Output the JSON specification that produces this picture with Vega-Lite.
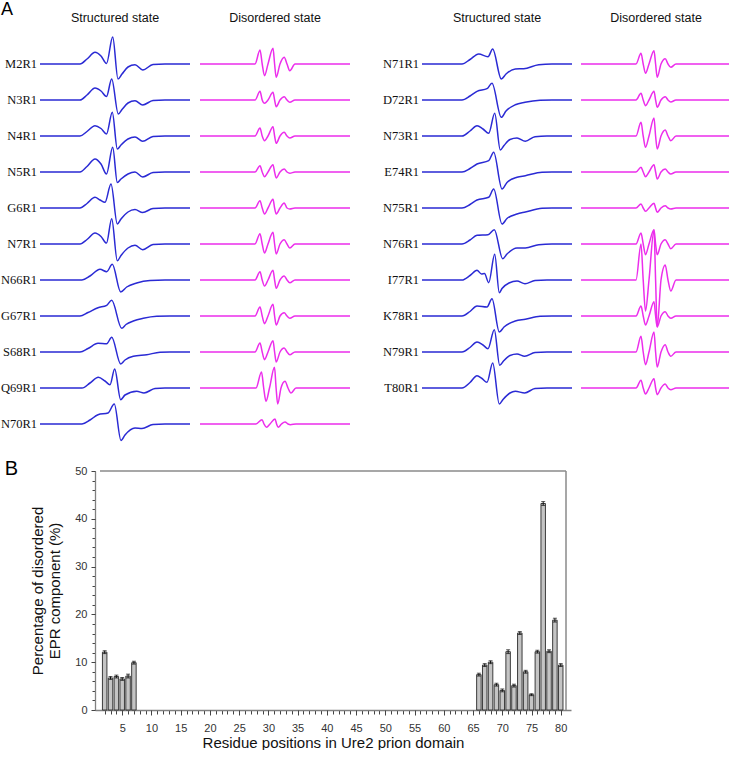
{
"$schema": "https://vega.github.io/schema/vega-lite/v6.json",
"padding": {"left": 0, "top": 0, "right": 0, "bottom": 0},
"background": "white",
"config": {"view": {"stroke": null}, "font": "Liberation Sans"},
"spacing": 15,
"datasets": {
"left": [
{"r":"M2R1","s":"S","x":0,"y":0},{"r":"M2R1","s":"S","x":40,"y":0},{"r":"M2R1","s":"S","x":47,"y":5},{"r":"M2R1","s":"S","x":55,"y":11.7},{"r":"M2R1","s":"S","x":61,"y":8},{"r":"M2R1","s":"S","x":66.5,"y":0.5},{"r":"M2R1","s":"S","x":72.7,"y":27},{"r":"M2R1","s":"S","x":78,"y":-15},{"r":"M2R1","s":"S","x":82,"y":-10},{"r":"M2R1","s":"S","x":88,"y":-3},{"r":"M2R1","s":"S","x":95,"y":-0.7},{"r":"M2R1","s":"S","x":102.7,"y":-6},{"r":"M2R1","s":"S","x":113,"y":-0.5},{"r":"M2R1","s":"S","x":125,"y":0},{"r":"M2R1","s":"S","x":150,"y":0},
{"r":"M2R1","s":"D","x":0,"y":0},{"r":"M2R1","s":"D","x":55,"y":0},{"r":"M2R1","s":"D","x":60,"y":14},{"r":"M2R1","s":"D","x":62.2,"y":0},{"r":"M2R1","s":"D","x":64.5,"y":-11.7},{"r":"M2R1","s":"D","x":68,"y":0},{"r":"M2R1","s":"D","x":73,"y":15.7},{"r":"M2R1","s":"D","x":74.6,"y":0},{"r":"M2R1","s":"D","x":76.2,"y":-13.3},{"r":"M2R1","s":"D","x":80,"y":0},{"r":"M2R1","s":"D","x":84.2,"y":6.7},{"r":"M2R1","s":"D","x":87,"y":0},{"r":"M2R1","s":"D","x":89.8,"y":-6.7},{"r":"M2R1","s":"D","x":95,"y":0},{"r":"M2R1","s":"D","x":150,"y":0},
{"r":"N3R1","s":"S","x":0,"y":0},{"r":"N3R1","s":"S","x":40,"y":0},{"r":"N3R1","s":"S","x":47,"y":5},{"r":"N3R1","s":"S","x":55,"y":12},{"r":"N3R1","s":"S","x":61,"y":9},{"r":"N3R1","s":"S","x":66.5,"y":3.5},{"r":"N3R1","s":"S","x":71.7,"y":21},{"r":"N3R1","s":"S","x":78.3,"y":-14},{"r":"N3R1","s":"S","x":82,"y":-9.5},{"r":"N3R1","s":"S","x":88,"y":-3},{"r":"N3R1","s":"S","x":95,"y":-0.7},{"r":"N3R1","s":"S","x":102.7,"y":-5},{"r":"N3R1","s":"S","x":113,"y":-0.5},{"r":"N3R1","s":"S","x":125,"y":0},{"r":"N3R1","s":"S","x":150,"y":0},
{"r":"N3R1","s":"D","x":0,"y":0},{"r":"N3R1","s":"D","x":55,"y":0},{"r":"N3R1","s":"D","x":60,"y":8.7},{"r":"N3R1","s":"D","x":62.2,"y":0},{"r":"N3R1","s":"D","x":64.5,"y":-3.3},{"r":"N3R1","s":"D","x":68,"y":0},{"r":"N3R1","s":"D","x":73,"y":7.7},{"r":"N3R1","s":"D","x":74.6,"y":0},{"r":"N3R1","s":"D","x":76.2,"y":-6.7},{"r":"N3R1","s":"D","x":80,"y":0},{"r":"N3R1","s":"D","x":84.2,"y":3.3},{"r":"N3R1","s":"D","x":87,"y":0},{"r":"N3R1","s":"D","x":89.8,"y":-2.3},{"r":"N3R1","s":"D","x":95,"y":0},{"r":"N3R1","s":"D","x":150,"y":0},
{"r":"N4R1","s":"S","x":0,"y":0},{"r":"N4R1","s":"S","x":40,"y":0},{"r":"N4R1","s":"S","x":47,"y":4.5},{"r":"N4R1","s":"S","x":55,"y":10.3},{"r":"N4R1","s":"S","x":61,"y":7.5},{"r":"N4R1","s":"S","x":66.5,"y":2},{"r":"N4R1","s":"S","x":72.3,"y":23.7},{"r":"N4R1","s":"S","x":77.3,"y":-13},{"r":"N4R1","s":"S","x":81,"y":-9},{"r":"N4R1","s":"S","x":88,"y":-3},{"r":"N4R1","s":"S","x":95,"y":-1},{"r":"N4R1","s":"S","x":102.7,"y":-5.3},{"r":"N4R1","s":"S","x":113,"y":-0.5},{"r":"N4R1","s":"S","x":125,"y":0},{"r":"N4R1","s":"S","x":150,"y":0},
{"r":"N4R1","s":"D","x":0,"y":0},{"r":"N4R1","s":"D","x":55,"y":0},{"r":"N4R1","s":"D","x":60,"y":8},{"r":"N4R1","s":"D","x":62.2,"y":0},{"r":"N4R1","s":"D","x":64.5,"y":-4.7},{"r":"N4R1","s":"D","x":68,"y":0},{"r":"N4R1","s":"D","x":73,"y":9.3},{"r":"N4R1","s":"D","x":74.6,"y":0},{"r":"N4R1","s":"D","x":76.2,"y":-7.3},{"r":"N4R1","s":"D","x":80,"y":0},{"r":"N4R1","s":"D","x":84.2,"y":3.7},{"r":"N4R1","s":"D","x":87,"y":0},{"r":"N4R1","s":"D","x":89.8,"y":-2},{"r":"N4R1","s":"D","x":95,"y":0},{"r":"N4R1","s":"D","x":150,"y":0},
{"r":"N5R1","s":"S","x":0,"y":0},{"r":"N5R1","s":"S","x":40,"y":0},{"r":"N5R1","s":"S","x":47,"y":5.5},{"r":"N5R1","s":"S","x":55,"y":13},{"r":"N5R1","s":"S","x":61,"y":8},{"r":"N5R1","s":"S","x":66.5,"y":-2},{"r":"N5R1","s":"S","x":72.7,"y":24.7},{"r":"N5R1","s":"S","x":77.3,"y":-10.5},{"r":"N5R1","s":"S","x":81,"y":-7},{"r":"N5R1","s":"S","x":88,"y":-2},{"r":"N5R1","s":"S","x":95,"y":0},{"r":"N5R1","s":"S","x":102.7,"y":-5},{"r":"N5R1","s":"S","x":113,"y":-0.5},{"r":"N5R1","s":"S","x":125,"y":0},{"r":"N5R1","s":"S","x":150,"y":0},
{"r":"N5R1","s":"D","x":0,"y":0},{"r":"N5R1","s":"D","x":55,"y":0},{"r":"N5R1","s":"D","x":60,"y":6.3},{"r":"N5R1","s":"D","x":62.2,"y":0},{"r":"N5R1","s":"D","x":64.5,"y":-4.7},{"r":"N5R1","s":"D","x":68,"y":0},{"r":"N5R1","s":"D","x":73,"y":7.3},{"r":"N5R1","s":"D","x":74.6,"y":0},{"r":"N5R1","s":"D","x":76.2,"y":-6},{"r":"N5R1","s":"D","x":80,"y":0},{"r":"N5R1","s":"D","x":84.2,"y":3},{"r":"N5R1","s":"D","x":87,"y":0},{"r":"N5R1","s":"D","x":89.8,"y":-1.3},{"r":"N5R1","s":"D","x":95,"y":0},{"r":"N5R1","s":"D","x":150,"y":0},
{"r":"G6R1","s":"S","x":0,"y":0},{"r":"G6R1","s":"S","x":40,"y":0},{"r":"G6R1","s":"S","x":47,"y":4.5},{"r":"G6R1","s":"S","x":55,"y":10.7},{"r":"G6R1","s":"S","x":60,"y":8},{"r":"G6R1","s":"S","x":65,"y":5.7},{"r":"G6R1","s":"S","x":71,"y":24},{"r":"G6R1","s":"S","x":77.3,"y":-16},{"r":"G6R1","s":"S","x":81,"y":-11},{"r":"G6R1","s":"S","x":88,"y":-4},{"r":"G6R1","s":"S","x":95,"y":-1.6},{"r":"G6R1","s":"S","x":102.7,"y":-4.5},{"r":"G6R1","s":"S","x":113,"y":-0.5},{"r":"G6R1","s":"S","x":125,"y":0},{"r":"G6R1","s":"S","x":150,"y":0},
{"r":"G6R1","s":"D","x":0,"y":0},{"r":"G6R1","s":"D","x":55,"y":0},{"r":"G6R1","s":"D","x":60,"y":7.3},{"r":"G6R1","s":"D","x":62.2,"y":0},{"r":"G6R1","s":"D","x":64.5,"y":-6},{"r":"G6R1","s":"D","x":68,"y":0},{"r":"G6R1","s":"D","x":73,"y":8.7},{"r":"G6R1","s":"D","x":74.6,"y":0},{"r":"G6R1","s":"D","x":76.2,"y":-6},{"r":"G6R1","s":"D","x":80,"y":0},{"r":"G6R1","s":"D","x":84.2,"y":5},{"r":"G6R1","s":"D","x":87,"y":0},{"r":"G6R1","s":"D","x":89.8,"y":-1},{"r":"G6R1","s":"D","x":95,"y":0},{"r":"G6R1","s":"D","x":150,"y":0},
{"r":"N7R1","s":"S","x":0,"y":0},{"r":"N7R1","s":"S","x":40,"y":0},{"r":"N7R1","s":"S","x":47,"y":4.5},{"r":"N7R1","s":"S","x":55,"y":11},{"r":"N7R1","s":"S","x":61,"y":7.5},{"r":"N7R1","s":"S","x":66.5,"y":1},{"r":"N7R1","s":"S","x":71.7,"y":25.3},{"r":"N7R1","s":"S","x":77.3,"y":-16.7},{"r":"N7R1","s":"S","x":81,"y":-11.5},{"r":"N7R1","s":"S","x":88,"y":-4},{"r":"N7R1","s":"S","x":95,"y":-1.3},{"r":"N7R1","s":"S","x":102.7,"y":-5.7},{"r":"N7R1","s":"S","x":113,"y":-0.5},{"r":"N7R1","s":"S","x":125,"y":0},{"r":"N7R1","s":"S","x":150,"y":0},
{"r":"N7R1","s":"D","x":0,"y":0},{"r":"N7R1","s":"D","x":55,"y":0},{"r":"N7R1","s":"D","x":60,"y":10.3},{"r":"N7R1","s":"D","x":62.2,"y":0},{"r":"N7R1","s":"D","x":64.5,"y":-9},{"r":"N7R1","s":"D","x":68,"y":0},{"r":"N7R1","s":"D","x":73,"y":11.7},{"r":"N7R1","s":"D","x":74.6,"y":0},{"r":"N7R1","s":"D","x":76.2,"y":-10},{"r":"N7R1","s":"D","x":80,"y":0},{"r":"N7R1","s":"D","x":84.2,"y":4.3},{"r":"N7R1","s":"D","x":87,"y":0},{"r":"N7R1","s":"D","x":89.8,"y":-4},{"r":"N7R1","s":"D","x":95,"y":0},{"r":"N7R1","s":"D","x":150,"y":0},
{"r":"N66R1","s":"S","x":0,"y":0},{"r":"N66R1","s":"S","x":42,"y":0},{"r":"N66R1","s":"S","x":50,"y":4},{"r":"N66R1","s":"S","x":60,"y":10.7},{"r":"N66R1","s":"S","x":66.7,"y":8.3},{"r":"N66R1","s":"S","x":72.3,"y":15.7},{"r":"N66R1","s":"S","x":80.7,"y":-12},{"r":"N66R1","s":"S","x":86.7,"y":-7},{"r":"N66R1","s":"S","x":96.7,"y":-3},{"r":"N66R1","s":"S","x":110,"y":-0.5},{"r":"N66R1","s":"S","x":125,"y":0},{"r":"N66R1","s":"S","x":150,"y":0},
{"r":"N66R1","s":"D","x":0,"y":0},{"r":"N66R1","s":"D","x":55,"y":0},{"r":"N66R1","s":"D","x":60,"y":8.3},{"r":"N66R1","s":"D","x":62.2,"y":0},{"r":"N66R1","s":"D","x":64.5,"y":-6},{"r":"N66R1","s":"D","x":68,"y":0},{"r":"N66R1","s":"D","x":73,"y":9.7},{"r":"N66R1","s":"D","x":74.6,"y":0},{"r":"N66R1","s":"D","x":76.2,"y":-8.3},{"r":"N66R1","s":"D","x":80,"y":0},{"r":"N66R1","s":"D","x":84.2,"y":4},{"r":"N66R1","s":"D","x":87,"y":0},{"r":"N66R1","s":"D","x":89.8,"y":-2.7},{"r":"N66R1","s":"D","x":95,"y":0},{"r":"N66R1","s":"D","x":150,"y":0},
{"r":"G67R1","s":"S","x":0,"y":0},{"r":"G67R1","s":"S","x":40,"y":0},{"r":"G67R1","s":"S","x":48,"y":3.5},{"r":"G67R1","s":"S","x":58,"y":8.3},{"r":"G67R1","s":"S","x":66.7,"y":10.7},{"r":"G67R1","s":"S","x":71.7,"y":15.7},{"r":"G67R1","s":"S","x":81.7,"y":-12.3},{"r":"G67R1","s":"S","x":86,"y":-8.5},{"r":"G67R1","s":"S","x":93.3,"y":-5},{"r":"G67R1","s":"S","x":103.3,"y":-2.3},{"r":"G67R1","s":"S","x":116.7,"y":-0.3},{"r":"G67R1","s":"S","x":130,"y":0},{"r":"G67R1","s":"S","x":150,"y":0},
{"r":"G67R1","s":"D","x":0,"y":0},{"r":"G67R1","s":"D","x":55,"y":0},{"r":"G67R1","s":"D","x":60,"y":9},{"r":"G67R1","s":"D","x":62.2,"y":0},{"r":"G67R1","s":"D","x":64.5,"y":-7.7},{"r":"G67R1","s":"D","x":68,"y":0},{"r":"G67R1","s":"D","x":73,"y":11.7},{"r":"G67R1","s":"D","x":74.6,"y":0},{"r":"G67R1","s":"D","x":76.2,"y":-9},{"r":"G67R1","s":"D","x":80,"y":0},{"r":"G67R1","s":"D","x":84.2,"y":3.3},{"r":"G67R1","s":"D","x":87,"y":0},{"r":"G67R1","s":"D","x":89.8,"y":-2.3},{"r":"G67R1","s":"D","x":95,"y":0},{"r":"G67R1","s":"D","x":150,"y":0},
{"r":"S68R1","s":"S","x":0,"y":0},{"r":"S68R1","s":"S","x":40,"y":0},{"r":"S68R1","s":"S","x":48,"y":3.5},{"r":"S68R1","s":"S","x":58,"y":8.7},{"r":"S68R1","s":"S","x":66.7,"y":8.3},{"r":"S68R1","s":"S","x":71.7,"y":14.7},{"r":"S68R1","s":"S","x":80.7,"y":-12},{"r":"S68R1","s":"S","x":85,"y":-8},{"r":"S68R1","s":"S","x":93.3,"y":-4.3},{"r":"S68R1","s":"S","x":106.7,"y":-2.7},{"r":"S68R1","s":"S","x":120,"y":-0.3},{"r":"S68R1","s":"S","x":130,"y":0},{"r":"S68R1","s":"S","x":150,"y":0},
{"r":"S68R1","s":"D","x":0,"y":0},{"r":"S68R1","s":"D","x":55,"y":0},{"r":"S68R1","s":"D","x":60,"y":9},{"r":"S68R1","s":"D","x":62.2,"y":0},{"r":"S68R1","s":"D","x":64.5,"y":-7.7},{"r":"S68R1","s":"D","x":68,"y":0},{"r":"S68R1","s":"D","x":73,"y":11.3},{"r":"S68R1","s":"D","x":74.6,"y":0},{"r":"S68R1","s":"D","x":76.2,"y":-10},{"r":"S68R1","s":"D","x":80,"y":0},{"r":"S68R1","s":"D","x":84.2,"y":4},{"r":"S68R1","s":"D","x":87,"y":0},{"r":"S68R1","s":"D","x":89.8,"y":-2.7},{"r":"S68R1","s":"D","x":95,"y":0},{"r":"S68R1","s":"D","x":150,"y":0},
{"r":"Q69R1","s":"S","x":0,"y":0},{"r":"Q69R1","s":"S","x":42,"y":0},{"r":"Q69R1","s":"S","x":50,"y":5},{"r":"Q69R1","s":"S","x":58.3,"y":10.7},{"r":"Q69R1","s":"S","x":65,"y":7},{"r":"Q69R1","s":"S","x":70,"y":3.3},{"r":"Q69R1","s":"S","x":74.7,"y":19},{"r":"Q69R1","s":"S","x":80.7,"y":-11.7},{"r":"Q69R1","s":"S","x":85,"y":-7},{"r":"Q69R1","s":"S","x":96.7,"y":-3.3},{"r":"Q69R1","s":"S","x":104,"y":-5},{"r":"Q69R1","s":"S","x":115,"y":-0.5},{"r":"Q69R1","s":"S","x":125,"y":0},{"r":"Q69R1","s":"S","x":150,"y":0},
{"r":"Q69R1","s":"D","x":0,"y":0},{"r":"Q69R1","s":"D","x":56,"y":0},{"r":"Q69R1","s":"D","x":61.5,"y":16},{"r":"Q69R1","s":"D","x":63.7,"y":0},{"r":"Q69R1","s":"D","x":66,"y":-13.3},{"r":"Q69R1","s":"D","x":69.5,"y":0},{"r":"Q69R1","s":"D","x":74.5,"y":20.7},{"r":"Q69R1","s":"D","x":76.1,"y":0},{"r":"Q69R1","s":"D","x":77.7,"y":-16},{"r":"Q69R1","s":"D","x":81,"y":0},{"r":"Q69R1","s":"D","x":85,"y":6.7},{"r":"Q69R1","s":"D","x":88,"y":0},{"r":"Q69R1","s":"D","x":91,"y":-5},{"r":"Q69R1","s":"D","x":96,"y":0},{"r":"Q69R1","s":"D","x":150,"y":0},
{"r":"N70R1","s":"S","x":0,"y":0},{"r":"N70R1","s":"S","x":42,"y":0},{"r":"N70R1","s":"S","x":50,"y":4},{"r":"N70R1","s":"S","x":58,"y":9.3},{"r":"N70R1","s":"S","x":68,"y":11},{"r":"N70R1","s":"S","x":74.3,"y":20},{"r":"N70R1","s":"S","x":81,"y":-16.5},{"r":"N70R1","s":"S","x":85,"y":-11},{"r":"N70R1","s":"S","x":95,"y":-4},{"r":"N70R1","s":"S","x":102,"y":-4.5},{"r":"N70R1","s":"S","x":113,"y":-0.5},{"r":"N70R1","s":"S","x":125,"y":0},{"r":"N70R1","s":"S","x":150,"y":0},
{"r":"N70R1","s":"D","x":0,"y":0},{"r":"N70R1","s":"D","x":56,"y":0},{"r":"N70R1","s":"D","x":62,"y":4.3},{"r":"N70R1","s":"D","x":64,"y":0},{"r":"N70R1","s":"D","x":66.5,"y":-3.3},{"r":"N70R1","s":"D","x":70,"y":0},{"r":"N70R1","s":"D","x":75,"y":5},{"r":"N70R1","s":"D","x":76.6,"y":0},{"r":"N70R1","s":"D","x":78.2,"y":-3.3},{"r":"N70R1","s":"D","x":81.5,"y":0},{"r":"N70R1","s":"D","x":85,"y":2},{"r":"N70R1","s":"D","x":88,"y":0},{"r":"N70R1","s":"D","x":90.5,"y":-0.7},{"r":"N70R1","s":"D","x":96,"y":0},{"r":"N70R1","s":"D","x":150,"y":0}
],
"right": [
{"r":"N71R1","s":"S","x":0,"y":0},{"r":"N71R1","s":"S","x":40,"y":0},{"r":"N71R1","s":"S","x":48,"y":4.5},{"r":"N71R1","s":"S","x":56.7,"y":10},{"r":"N71R1","s":"S","x":66,"y":7.3},{"r":"N71R1","s":"S","x":70.7,"y":15},{"r":"N71R1","s":"S","x":79.3,"y":-15},{"r":"N71R1","s":"S","x":84,"y":-10},{"r":"N71R1","s":"S","x":93.3,"y":-5},{"r":"N71R1","s":"S","x":101.7,"y":-4.7},{"r":"N71R1","s":"S","x":116.7,"y":-0.7},{"r":"N71R1","s":"S","x":130,"y":0},{"r":"N71R1","s":"S","x":150,"y":0},
{"r":"N71R1","s":"D","x":0,"y":0},{"r":"N71R1","s":"D","x":55,"y":0},{"r":"N71R1","s":"D","x":60,"y":10.7},{"r":"N71R1","s":"D","x":62.2,"y":0},{"r":"N71R1","s":"D","x":64.5,"y":-9.3},{"r":"N71R1","s":"D","x":68,"y":0},{"r":"N71R1","s":"D","x":73,"y":13.3},{"r":"N71R1","s":"D","x":74.6,"y":0},{"r":"N71R1","s":"D","x":76.2,"y":-13.3},{"r":"N71R1","s":"D","x":80,"y":0},{"r":"N71R1","s":"D","x":84.2,"y":5.3},{"r":"N71R1","s":"D","x":87,"y":0},{"r":"N71R1","s":"D","x":89.8,"y":-3.3},{"r":"N71R1","s":"D","x":95,"y":0},{"r":"N71R1","s":"D","x":150,"y":0},
{"r":"D72R1","s":"S","x":0,"y":0},{"r":"D72R1","s":"S","x":40,"y":0},{"r":"D72R1","s":"S","x":48,"y":4},{"r":"D72R1","s":"S","x":55,"y":8.7},{"r":"D72R1","s":"S","x":65,"y":11.3},{"r":"D72R1","s":"S","x":70,"y":16.7},{"r":"D72R1","s":"S","x":79.3,"y":-17.3},{"r":"D72R1","s":"S","x":84,"y":-11},{"r":"D72R1","s":"S","x":93.3,"y":-4.7},{"r":"D72R1","s":"S","x":103,"y":-2.3},{"r":"D72R1","s":"S","x":118,"y":-0.3},{"r":"D72R1","s":"S","x":130,"y":0},{"r":"D72R1","s":"S","x":150,"y":0},
{"r":"D72R1","s":"D","x":0,"y":0},{"r":"D72R1","s":"D","x":55,"y":0},{"r":"D72R1","s":"D","x":60,"y":6.7},{"r":"D72R1","s":"D","x":62.2,"y":0},{"r":"D72R1","s":"D","x":64.5,"y":-5.7},{"r":"D72R1","s":"D","x":68,"y":0},{"r":"D72R1","s":"D","x":73,"y":8.7},{"r":"D72R1","s":"D","x":74.6,"y":0},{"r":"D72R1","s":"D","x":76.2,"y":-7.3},{"r":"D72R1","s":"D","x":80,"y":0},{"r":"D72R1","s":"D","x":84.2,"y":3.3},{"r":"D72R1","s":"D","x":87,"y":0},{"r":"D72R1","s":"D","x":89.8,"y":-2},{"r":"D72R1","s":"D","x":95,"y":0},{"r":"D72R1","s":"D","x":150,"y":0},
{"r":"N73R1","s":"S","x":0,"y":0},{"r":"N73R1","s":"S","x":40,"y":0},{"r":"N73R1","s":"S","x":48,"y":5},{"r":"N73R1","s":"S","x":55,"y":10.3},{"r":"N73R1","s":"S","x":61,"y":7},{"r":"N73R1","s":"S","x":66.7,"y":2.7},{"r":"N73R1","s":"S","x":72.7,"y":22.7},{"r":"N73R1","s":"S","x":78.3,"y":-14},{"r":"N73R1","s":"S","x":82,"y":-9.5},{"r":"N73R1","s":"S","x":88,"y":-3.5},{"r":"N73R1","s":"S","x":95,"y":-2},{"r":"N73R1","s":"S","x":103.3,"y":-5.3},{"r":"N73R1","s":"S","x":113,"y":-0.7},{"r":"N73R1","s":"S","x":125,"y":0},{"r":"N73R1","s":"S","x":150,"y":0},
{"r":"N73R1","s":"D","x":0,"y":0},{"r":"N73R1","s":"D","x":55,"y":0},{"r":"N73R1","s":"D","x":60,"y":13.7},{"r":"N73R1","s":"D","x":62.2,"y":0},{"r":"N73R1","s":"D","x":64.5,"y":-11.3},{"r":"N73R1","s":"D","x":68,"y":0},{"r":"N73R1","s":"D","x":73,"y":18},{"r":"N73R1","s":"D","x":74.6,"y":0},{"r":"N73R1","s":"D","x":76.2,"y":-13},{"r":"N73R1","s":"D","x":80,"y":0},{"r":"N73R1","s":"D","x":84.2,"y":6},{"r":"N73R1","s":"D","x":87,"y":0},{"r":"N73R1","s":"D","x":89.8,"y":-4.7},{"r":"N73R1","s":"D","x":95,"y":0},{"r":"N73R1","s":"D","x":150,"y":0},
{"r":"E74R1","s":"S","x":0,"y":0},{"r":"E74R1","s":"S","x":40,"y":0},{"r":"E74R1","s":"S","x":48,"y":3.5},{"r":"E74R1","s":"S","x":55,"y":8},{"r":"E74R1","s":"S","x":66.7,"y":11.3},{"r":"E74R1","s":"S","x":71.7,"y":19.7},{"r":"E74R1","s":"S","x":80,"y":-17},{"r":"E74R1","s":"S","x":85,"y":-10.5},{"r":"E74R1","s":"S","x":95,"y":-5.3},{"r":"E74R1","s":"S","x":103.3,"y":-3.7},{"r":"E74R1","s":"S","x":120,"y":-0.3},{"r":"E74R1","s":"S","x":130,"y":0},{"r":"E74R1","s":"S","x":150,"y":0},
{"r":"E74R1","s":"D","x":0,"y":0},{"r":"E74R1","s":"D","x":55,"y":0},{"r":"E74R1","s":"D","x":60,"y":4.7},{"r":"E74R1","s":"D","x":62.2,"y":0},{"r":"E74R1","s":"D","x":64.5,"y":-4.7},{"r":"E74R1","s":"D","x":68,"y":0},{"r":"E74R1","s":"D","x":73,"y":7.3},{"r":"E74R1","s":"D","x":74.6,"y":0},{"r":"E74R1","s":"D","x":76.2,"y":-7},{"r":"E74R1","s":"D","x":80,"y":0},{"r":"E74R1","s":"D","x":84.2,"y":3},{"r":"E74R1","s":"D","x":87,"y":0},{"r":"E74R1","s":"D","x":89.8,"y":-2},{"r":"E74R1","s":"D","x":95,"y":0},{"r":"E74R1","s":"D","x":150,"y":0},
{"r":"N75R1","s":"S","x":0,"y":0},{"r":"N75R1","s":"S","x":40,"y":0},{"r":"N75R1","s":"S","x":48,"y":3.5},{"r":"N75R1","s":"S","x":55,"y":8},{"r":"N75R1","s":"S","x":66.7,"y":10.7},{"r":"N75R1","s":"S","x":71.7,"y":19},{"r":"N75R1","s":"S","x":80,"y":-16},{"r":"N75R1","s":"S","x":85,"y":-10.5},{"r":"N75R1","s":"S","x":95,"y":-6},{"r":"N75R1","s":"S","x":103.3,"y":-4},{"r":"N75R1","s":"S","x":120,"y":-0.3},{"r":"N75R1","s":"S","x":130,"y":0},{"r":"N75R1","s":"S","x":150,"y":0},
{"r":"N75R1","s":"D","x":0,"y":0},{"r":"N75R1","s":"D","x":55,"y":0},{"r":"N75R1","s":"D","x":60,"y":4},{"r":"N75R1","s":"D","x":62.2,"y":0},{"r":"N75R1","s":"D","x":64.5,"y":-3.3},{"r":"N75R1","s":"D","x":68,"y":0},{"r":"N75R1","s":"D","x":73,"y":4.7},{"r":"N75R1","s":"D","x":74.6,"y":0},{"r":"N75R1","s":"D","x":76.2,"y":-4.3},{"r":"N75R1","s":"D","x":80,"y":0},{"r":"N75R1","s":"D","x":84.2,"y":2.3},{"r":"N75R1","s":"D","x":87,"y":0},{"r":"N75R1","s":"D","x":89.8,"y":-1},{"r":"N75R1","s":"D","x":95,"y":0},{"r":"N75R1","s":"D","x":150,"y":0},
{"r":"N76R1","s":"S","x":0,"y":0},{"r":"N76R1","s":"S","x":40,"y":0},{"r":"N76R1","s":"S","x":48,"y":4},{"r":"N76R1","s":"S","x":55,"y":8.7},{"r":"N76R1","s":"S","x":66,"y":9.3},{"r":"N76R1","s":"S","x":72.3,"y":14.3},{"r":"N76R1","s":"S","x":80.7,"y":-14.7},{"r":"N76R1","s":"S","x":85,"y":-10},{"r":"N76R1","s":"S","x":95,"y":-4},{"r":"N76R1","s":"S","x":103.3,"y":-4},{"r":"N76R1","s":"S","x":116.7,"y":-0.7},{"r":"N76R1","s":"S","x":130,"y":0},{"r":"N76R1","s":"S","x":150,"y":0},
{"r":"N76R1","s":"D","x":0,"y":0},{"r":"N76R1","s":"D","x":55,"y":0},{"r":"N76R1","s":"D","x":60,"y":11},{"r":"N76R1","s":"D","x":62.2,"y":0},{"r":"N76R1","s":"D","x":64.5,"y":-10.7},{"r":"N76R1","s":"D","x":68,"y":0},{"r":"N76R1","s":"D","x":73,"y":14.3},{"r":"N76R1","s":"D","x":74.6,"y":0},{"r":"N76R1","s":"D","x":76.2,"y":-10.7},{"r":"N76R1","s":"D","x":80,"y":0},{"r":"N76R1","s":"D","x":84.2,"y":4.3},{"r":"N76R1","s":"D","x":87,"y":0},{"r":"N76R1","s":"D","x":89.8,"y":-4.7},{"r":"N76R1","s":"D","x":95,"y":0},{"r":"N76R1","s":"D","x":150,"y":0},
{"r":"I77R1","s":"S","x":0,"y":0},{"r":"I77R1","s":"S","x":40,"y":0},{"r":"I77R1","s":"S","x":48,"y":4.5},{"r":"I77R1","s":"S","x":55,"y":9.7},{"r":"I77R1","s":"S","x":59.5,"y":6},{"r":"I77R1","s":"S","x":62.5,"y":6.5},{"r":"I77R1","s":"S","x":66.7,"y":-2.7},{"r":"I77R1","s":"S","x":72.7,"y":25.7},{"r":"I77R1","s":"S","x":77.3,"y":-12.7},{"r":"I77R1","s":"S","x":80,"y":-8.5},{"r":"I77R1","s":"S","x":87,"y":-3},{"r":"I77R1","s":"S","x":95,"y":-1},{"r":"I77R1","s":"S","x":103,"y":-3.7},{"r":"I77R1","s":"S","x":113,"y":-0.5},{"r":"I77R1","s":"S","x":125,"y":0},{"r":"I77R1","s":"S","x":150,"y":0},
{"r":"I77R1","s":"D","x":0,"y":0},{"r":"I77R1","s":"D","x":55,"y":0},{"r":"I77R1","s":"D","x":60,"y":36},{"r":"I77R1","s":"D","x":62.2,"y":0},{"r":"I77R1","s":"D","x":64.5,"y":-31},{"r":"I77R1","s":"D","x":68,"y":0},{"r":"I77R1","s":"D","x":73,"y":49.7},{"r":"I77R1","s":"D","x":74.6,"y":0},{"r":"I77R1","s":"D","x":76.2,"y":-47},{"r":"I77R1","s":"D","x":80,"y":0},{"r":"I77R1","s":"D","x":84.2,"y":15},{"r":"I77R1","s":"D","x":87,"y":0},{"r":"I77R1","s":"D","x":89.8,"y":-11},{"r":"I77R1","s":"D","x":95,"y":0},{"r":"I77R1","s":"D","x":150,"y":0},
{"r":"K78R1","s":"S","x":0,"y":0},{"r":"K78R1","s":"S","x":40,"y":0},{"r":"K78R1","s":"S","x":48,"y":4.5},{"r":"K78R1","s":"S","x":55,"y":10},{"r":"K78R1","s":"S","x":65,"y":9},{"r":"K78R1","s":"S","x":70,"y":17.3},{"r":"K78R1","s":"S","x":77.3,"y":-16},{"r":"K78R1","s":"S","x":82,"y":-11},{"r":"K78R1","s":"S","x":93.3,"y":-5},{"r":"K78R1","s":"S","x":103.3,"y":-3.3},{"r":"K78R1","s":"S","x":118,"y":-0.3},{"r":"K78R1","s":"S","x":130,"y":0},{"r":"K78R1","s":"S","x":150,"y":0},
{"r":"K78R1","s":"D","x":0,"y":0},{"r":"K78R1","s":"D","x":55,"y":0},{"r":"K78R1","s":"D","x":60,"y":10},{"r":"K78R1","s":"D","x":62.2,"y":0},{"r":"K78R1","s":"D","x":64.5,"y":-9},{"r":"K78R1","s":"D","x":68,"y":0},{"r":"K78R1","s":"D","x":73,"y":14.3},{"r":"K78R1","s":"D","x":74.6,"y":0},{"r":"K78R1","s":"D","x":76.2,"y":-11},{"r":"K78R1","s":"D","x":80,"y":0},{"r":"K78R1","s":"D","x":84.2,"y":4.3},{"r":"K78R1","s":"D","x":87,"y":0},{"r":"K78R1","s":"D","x":89.8,"y":-2.3},{"r":"K78R1","s":"D","x":95,"y":0},{"r":"K78R1","s":"D","x":150,"y":0},
{"r":"N79R1","s":"S","x":0,"y":0},{"r":"N79R1","s":"S","x":40,"y":0},{"r":"N79R1","s":"S","x":48,"y":4.5},{"r":"N79R1","s":"S","x":55,"y":10},{"r":"N79R1","s":"S","x":61,"y":7},{"r":"N79R1","s":"S","x":66,"y":3.3},{"r":"N79R1","s":"S","x":72.3,"y":22.3},{"r":"N79R1","s":"S","x":77.7,"y":-13.3},{"r":"N79R1","s":"S","x":81.5,"y":-9},{"r":"N79R1","s":"S","x":88,"y":-3.5},{"r":"N79R1","s":"S","x":95,"y":-2},{"r":"N79R1","s":"S","x":102.7,"y":-4.3},{"r":"N79R1","s":"S","x":113,"y":-0.5},{"r":"N79R1","s":"S","x":125,"y":0},{"r":"N79R1","s":"S","x":150,"y":0},
{"r":"N79R1","s":"D","x":0,"y":0},{"r":"N79R1","s":"D","x":55,"y":0},{"r":"N79R1","s":"D","x":60,"y":15.7},{"r":"N79R1","s":"D","x":62.2,"y":0},{"r":"N79R1","s":"D","x":64.5,"y":-12.7},{"r":"N79R1","s":"D","x":68,"y":0},{"r":"N79R1","s":"D","x":73,"y":20},{"r":"N79R1","s":"D","x":74.6,"y":0},{"r":"N79R1","s":"D","x":76.2,"y":-15},{"r":"N79R1","s":"D","x":80,"y":0},{"r":"N79R1","s":"D","x":84.2,"y":7.3},{"r":"N79R1","s":"D","x":87,"y":0},{"r":"N79R1","s":"D","x":89.8,"y":-4.3},{"r":"N79R1","s":"D","x":95,"y":0},{"r":"N79R1","s":"D","x":150,"y":0},
{"r":"T80R1","s":"S","x":0,"y":0},{"r":"T80R1","s":"S","x":40,"y":0},{"r":"T80R1","s":"S","x":48,"y":5.5},{"r":"T80R1","s":"S","x":55,"y":12.3},{"r":"T80R1","s":"S","x":60,"y":9.5},{"r":"T80R1","s":"S","x":65,"y":5.7},{"r":"T80R1","s":"S","x":70.7,"y":25},{"r":"T80R1","s":"S","x":77.3,"y":-16},{"r":"T80R1","s":"S","x":81,"y":-11.5},{"r":"T80R1","s":"S","x":88,"y":-5},{"r":"T80R1","s":"S","x":93.3,"y":-3.3},{"r":"T80R1","s":"S","x":102.7,"y":-5},{"r":"T80R1","s":"S","x":113,"y":-0.5},{"r":"T80R1","s":"S","x":125,"y":0},{"r":"T80R1","s":"S","x":150,"y":0},
{"r":"T80R1","s":"D","x":0,"y":0},{"r":"T80R1","s":"D","x":55,"y":0},{"r":"T80R1","s":"D","x":60,"y":7.7},{"r":"T80R1","s":"D","x":62.2,"y":0},{"r":"T80R1","s":"D","x":64.5,"y":-6},{"r":"T80R1","s":"D","x":68,"y":0},{"r":"T80R1","s":"D","x":73,"y":9.3},{"r":"T80R1","s":"D","x":74.6,"y":0},{"r":"T80R1","s":"D","x":76.2,"y":-6.7},{"r":"T80R1","s":"D","x":80,"y":0},{"r":"T80R1","s":"D","x":84.2,"y":4},{"r":"T80R1","s":"D","x":87,"y":0},{"r":"T80R1","s":"D","x":89.8,"y":-1.7},{"r":"T80R1","s":"D","x":95,"y":0},{"r":"T80R1","s":"D","x":150,"y":0}
],
"bars": [
{"pos":2,"v":12.1,"e":0.3},{"pos":3,"v":6.7,"e":0.3},{"pos":4,"v":7.0,"e":0.3},{"pos":5,"v":6.5,"e":0.3},{"pos":6,"v":7.1,"e":0.4},{"pos":7,"v":9.9,"e":0.3},
{"pos":66,"v":7.4,"e":0.3},{"pos":67,"v":9.4,"e":0.3},{"pos":68,"v":10.0,"e":0.3},{"pos":69,"v":5.3,"e":0.3},{"pos":70,"v":4.1,"e":0.3},{"pos":71,"v":12.2,"e":0.4},{"pos":72,"v":5.1,"e":0.3},{"pos":73,"v":16.1,"e":0.3},{"pos":74,"v":8.0,"e":0.3},{"pos":75,"v":3.2,"e":0.2},{"pos":76,"v":12.2,"e":0.3},{"pos":77,"v":43.2,"e":0.4},{"pos":78,"v":12.3,"e":0.3},{"pos":79,"v":18.8,"e":0.4},{"pos":80,"v":9.4,"e":0.3}
]
},
"vconcat": [
{
"title": {"text": "A", "anchor": "start", "frame": "bounds", "fontSize": 18, "fontWeight": "normal", "font": "Liberation Sans", "color": "#000", "offset": 0, "baseline": "top", "dy": 7},
"spacing": 29,
"hconcat": [
{
"data": {"name": "left"},
"bounds": "flush",
"facet": {
"row": {"field": "r", "type": "nominal", "sort": ["M2R1","N3R1","N4R1","N5R1","G6R1","N7R1","N66R1","G67R1","S68R1","Q69R1","N70R1"], "header": {"title": null, "labels": false}},
"column": {"field": "s", "type": "nominal", "sort": ["S","D"], "header": {"title": null, "labelExpr": "datum.value == 'S' ? 'Structured state' : 'Disordered state'", "labelFont": "Liberation Sans", "labelFontSize": 12.5, "labelColor": "#111", "labelPadding": 22}}
},
"spacing": {"row": 0, "column": 10},
"spec": {
"width": 150, "height": 36,
"layer": [
{
"mark": {"type": "line", "interpolate": "monotone", "strokeWidth": 1.5, "clip": false},
"encoding": {
"x": {"field": "x", "type": "quantitative", "scale": {"domain": [0, 150], "nice": false}, "axis": null},
"y": {"field": "y", "type": "quantitative", "scale": {"domain": [-18, 18], "nice": false, "zero": false}, "axis": null},
"color": {"field": "s", "type": "nominal", "scale": {"domain": ["S","D"], "range": ["#2a2ad4","#ec2eec"]}, "legend": null}
}
},
{
"transform": [{"filter": "datum.x == 0 && datum.s == 'S'"}],
"mark": {"type": "text", "align": "right", "baseline": "middle", "dx": -3, "font": "Liberation Serif", "fontSize": 12.5, "color": "#111", "clip": false},
"encoding": {
"x": {"field": "x", "type": "quantitative"},
"y": {"field": "y", "type": "quantitative"},
"text": {"field": "r"}
}
}
]
}
},
{
"data": {"name": "right"},
"bounds": "flush",
"facet": {
"row": {"field": "r", "type": "nominal", "sort": ["N71R1","D72R1","N73R1","E74R1","N75R1","N76R1","I77R1","K78R1","N79R1","T80R1"], "header": {"title": null, "labels": false}},
"column": {"field": "s", "type": "nominal", "sort": ["S","D"], "header": {"title": null, "labelExpr": "datum.value == 'S' ? 'Structured state' : 'Disordered state'", "labelFont": "Liberation Sans", "labelFontSize": 12.5, "labelColor": "#111", "labelPadding": 22}}
},
"spacing": {"row": 0, "column": 9},
"spec": {
"width": 150, "height": 36,
"layer": [
{
"mark": {"type": "line", "interpolate": "monotone", "strokeWidth": 1.5, "clip": false},
"encoding": {
"x": {"field": "x", "type": "quantitative", "scale": {"domain": [0, 150], "nice": false}, "axis": null},
"y": {"field": "y", "type": "quantitative", "scale": {"domain": [-18, 18], "nice": false, "zero": false}, "axis": null},
"color": {"field": "s", "type": "nominal", "scale": {"domain": ["S","D"], "range": ["#2a2ad4","#ec2eec"]}, "legend": null}
}
},
{
"transform": [{"filter": "datum.x == 0 && datum.s == 'S'"}],
"mark": {"type": "text", "align": "right", "baseline": "middle", "dx": -3, "font": "Liberation Serif", "fontSize": 12.5, "color": "#111", "clip": false},
"encoding": {
"x": {"field": "x", "type": "quantitative"},
"y": {"field": "y", "type": "quantitative"},
"text": {"field": "r"}
}
}
]
}
}
]
},
{
"data": {"name": "bars"},
"width": 531, "height": 239,
"title": {"text": "B", "anchor": "start", "frame": "bounds", "fontSize": 20, "fontWeight": "normal", "font": "Liberation Sans", "color": "#000", "offset": 0, "baseline": "top", "dx": -26, "dy": 14},
"layer": [
{
"data": {"values": [{}]},
"mark": {"type": "rule", "color": "#8a8a8a", "strokeWidth": 1.5},
"encoding": {
"x": {"datum": 1.2, "type": "quantitative", "axis": null},
"x2": {"datum": 80.9},
"y": {"datum": 50, "type": "quantitative", "axis": null}
}
},
{
"data": {"values": [{}]},
"mark": {"type": "rule", "color": "#8a8a8a", "strokeWidth": 1.5},
"encoding": {
"x": {"datum": 80.9, "type": "quantitative", "axis": null},
"y": {"datum": 0, "type": "quantitative", "axis": null},
"y2": {"datum": 50}
}
},
{
"mark": {"type": "bar", "width": 4.5, "fill": "#c4c4c4", "stroke": "#2a2a2a", "strokeWidth": 0.9},
"encoding": {
"x": {"field": "pos", "type": "quantitative", "scale": {"domain": [1.2, 80.9], "range": [55, 531], "nice": false, "zero": false}, "axis": {"orient": "bottom", "values": [2,3,4,5,6,7,8,9,10,11,12,13,14,15,16,17,18,19,20,21,22,23,24,25,26,27,28,29,30,31,32,33,34,35,36,37,38,39,40,41,42,43,44,45,46,47,48,49,50,51,52,53,54,55,56,57,58,59,60,61,62,63,64,65,66,67,68,69,70,71,72,73,74,75,76,77,78,79,80], "labels": false, "tickSize": 4, "tickColor": "#444", "domainColor": "#808080", "domainWidth": 1.3, "grid": false, "title": null}},
"y": {"field": "v", "type": "quantitative", "scale": {"domain": [0, 50], "nice": false}, "axis": {"orient": "left", "offset": -55, "values": [0,2,4,6,8,10,12,14,16,18,20,22,24,26,28,30,32,34,36,38,40,42,44,46,48,50], "labels": false, "tickSize": 3, "tickColor": "#444", "domainColor": "#808080", "domainWidth": 1.3, "grid": false, "title": null}}
}
},
{
"mark": {"type": "errorbar", "color": "#111", "ticks": {"size": 4, "color": "#111"}},
"encoding": {
"x": {"field": "pos", "type": "quantitative", "axis": {"orient": "bottom", "values": [5,10,15,20,25,30,35,40,45,50,55,60,65,70,75,80], "tickSize": 5, "tickColor": "#444", "domain": false, "grid": false, "labelFlush": false, "labelFontSize": 11, "labelColor": "#333", "labelPadding": 7, "title": "Residue positions in Ure2 prion domain", "titleFontSize": 15, "titleFontWeight": "normal", "titleColor": "#111", "titlePadding": 2}},
"y": {"field": "v", "type": "quantitative", "axis": {"orient": "left", "offset": -55, "values": [0,10,20,30,40,50], "tickSize": 4, "tickColor": "#444", "domain": false, "grid": false, "labelFlush": false, "labelFontSize": 11, "labelColor": "#333", "labelPadding": 4, "title": ["Percentage of disordered", "EPR component (%)"], "titleFontSize": 15, "titleFontWeight": "normal", "titleColor": "#111", "titlePadding": 12, "titleLineHeight": 17}},
"yError": {"field": "e"}
}
}
],
"resolve": {"axis": {"x": "independent", "y": "independent"}}
}
]
}
